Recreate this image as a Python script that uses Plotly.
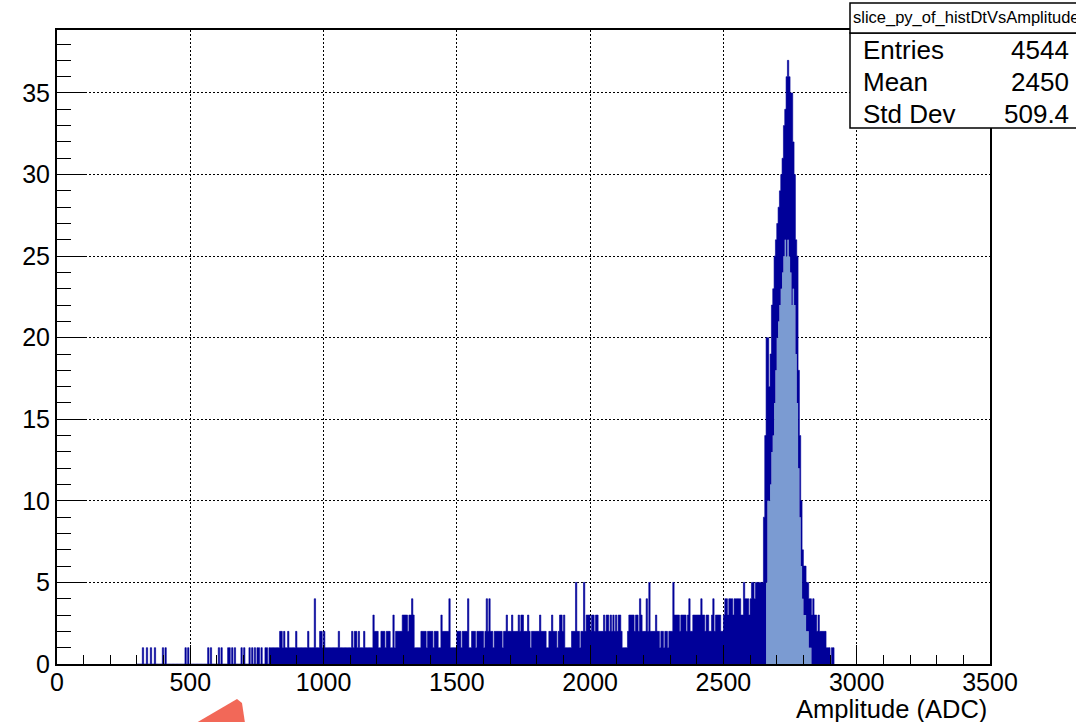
import plotly.graph_objects as go

# ---------------- data ----------------
BIN_WIDTH = 5          # ADC per drawn column
FIRST_EDGE = 300       # left edge of first column (ADC)

# maximum bin content seen in each 5-ADC column
max_300_795 = ("0000100100" "1001000001" "0100000000" "0000001010" "0000000000"
               "0001010000" "0101000011" "0101000010" "1000101010" "1101001101")
max_800_1295 = ("1111111221" "2112111112" "1111111121" "1114111221" "2111111111"
                "1211111111" "1212212111" "2111111322" "2112221222" "1131222223")
max_1300_1795 = ("3332334311" "1112222122" "2212221132" "2222411111" "2221222241"
                 "1222122222" "1242422122" "2222122322" "2322223233" "2223212222")
max_1800_2295 = ("2232222112" "2322212332" "3111112225" "2212252333" "2332332222"
                 "3233232323" "2332111123" "3332332432" "2242522223" "2212212212")
max_2300_2645 = ("2253333233" "3323422333" "3334332332" "2342333322" "3443444344"
                 "4443354443" "4554555555")
peak_max_2650_2910 = [9, 14, 20, 20, 17, 19, 22, 23, 25, 26,
                      27, 28, 29, 30, 31, 33, 34, 36, 37, 36,
                      35, 35, 32, 30, 26, 25, 18, 14, 10, 7,
                      6, 6, 5, 5, 4, 4, 3, 4, 3, 3,
                      2, 3, 2, 2, 2, 2, 2, 1, 1, 1,
                      0, 1, 1]
# minimum bin content in each column of the peak (fill shows below it)
peak_min_2650_2910 = [0, 0, 5, 10, 10, 11, 13, 14, 16, 18,
                      20, 21, 22, 23, 24, 25, 26, 25, 26, 25,
                      24, 22, 23, 22, 19, 16, 12, 9, 6, 4,
                      3, 3, 2, 2, 1, 1, 0, 0, 0, 0,
                      0, 0, 0, 0, 0, 0, 0, 0, 0, 0,
                      0, 0, 0]

x_tick_values = [0, 500, 1000, 1500, 2000, 2500, 3000, 3500]
y_tick_values = [0, 5, 10, 15, 20, 25, 30, 35]

stats_title = "slice_py_of_histDtVsAmplitude"
stat_names = ["Entries", "Mean", "Std Dev"]
stat_values = ["4544", "2450", "509.4"]
x_title = "Amplitude (ADC)"

# ---------------- build ----------------
def digits(s):
    return [int(c) for c in s]

hi = (digits(max_300_795) + digits(max_800_1295) + digits(max_1300_1795)
      + digits(max_1800_2295) + digits(max_2300_2645) + peak_max_2650_2910)
lo = [0] * (len(hi) - len(peak_min_2650_2910)) + peak_min_2650_2910
edges = [FIRST_EDGE + BIN_WIDTH * i for i in range(len(hi) + 1)]

LIGHT = "#7b9bd2"
DARK = "#000099"
FONT = "Liberation Sans, Arial, Helvetica, sans-serif"

fig = go.Figure()
fig.add_trace(go.Scatter(x=edges, y=lo + [0], mode="lines", line_shape="hv",
                         line=dict(width=0, color=LIGHT), fill="tozeroy",
                         fillcolor=LIGHT, hoverinfo="skip", showlegend=False))
fig.add_trace(go.Scatter(x=edges, y=hi + [0], mode="lines", line_shape="hv",
                         line=dict(width=0.6, color=DARK), fill="tonexty",
                         fillcolor=DARK, showlegend=False))

L, R, T, B = 57, 86, 30, 58
W, H = 1076, 722
PW, PH = W - L - R, H - T - B

def px(xp):
    return (xp - L) / PW

def py(yp):
    return (H - B - yp) / PH

axis_common = dict(
    showline=True, linecolor="black", linewidth=2, mirror=True,
    showgrid=True, gridcolor="black", gridwidth=1, griddash="2px,2px",
    zeroline=False, ticks="inside", tickcolor="black", tickwidth=1,
    tickfont=dict(family=FONT, size=25, color="black"),
)

fig.update_xaxes(range=[0, 3500], tickmode="array", tickvals=x_tick_values,
                 ticklen=19, ticklabelstandoff=-5,
                 minor=dict(dtick=100, tick0=0, ticks="inside", ticklen=9,
                            tickcolor="black", tickwidth=1, showgrid=False),
                 **axis_common)
fig.update_yaxes(range=[0, 38.86], tickmode="array", tickvals=y_tick_values,
                 ticklen=28,
                 minor=dict(dtick=1, tick0=0, ticks="inside", ticklen=14,
                            tickcolor="black", tickwidth=1, showgrid=False),
                 **axis_common)

shapes = []
# stats box (title row + body)
shapes.append(dict(type="rect", xref="paper", yref="paper",
                   x0=px(850), x1=px(1085), y0=py(128), y1=py(33),
                   line=dict(color="black", width=1.5), fillcolor="white", layer="above"))
shapes.append(dict(type="rect", xref="paper", yref="paper",
                   x0=px(850), x1=px(1085), y0=py(33), y1=py(3),
                   line=dict(color="black", width=1.5), fillcolor="white", layer="above"))
# red arrow fragment at the bottom
pts = [(196, 723), (237, 699), (242, 703), (245, 723)]
path = "M " + " L ".join(f"{px(a):.5f},{py(b):.5f}" for a, b in pts) + " Z"
shapes.append(dict(type="path", xref="paper", yref="paper", path=path,
                   fillcolor="#f26858", line=dict(width=0), layer="above"))

annotations = [dict(text=stats_title, xref="paper", yref="paper", x=px(851), y=py(18),
                    xanchor="left", yanchor="middle", showarrow=False,
                    font=dict(family=FONT, size=16.5, color="black"))]
row_y = [50, 82, 114]
for name, val, yy in zip(stat_names, stat_values, row_y):
    annotations.append(dict(text=name, xref="paper", yref="paper", x=px(861), y=py(yy),
                            xanchor="left", yanchor="middle", showarrow=False,
                            font=dict(family=FONT, size=26, color="black")))
    annotations.append(dict(text=val, xref="paper", yref="paper", x=px(1071), y=py(yy),
                            xanchor="right", yanchor="middle", showarrow=False,
                            font=dict(family=FONT, size=26, color="black")))
annotations.append(dict(text=x_title, xref="paper", yref="paper", x=px(989), y=py(709),
                        xanchor="right", yanchor="middle", showarrow=False,
                        font=dict(family=FONT, size=25.5, color="black")))

fig.update_layout(width=W, height=H, margin=dict(l=L, r=R, t=T, b=B, pad=0),
                  paper_bgcolor="white", plot_bgcolor="white",
                  shapes=shapes, annotations=annotations, showlegend=False)

fig.write_html("out.html")
